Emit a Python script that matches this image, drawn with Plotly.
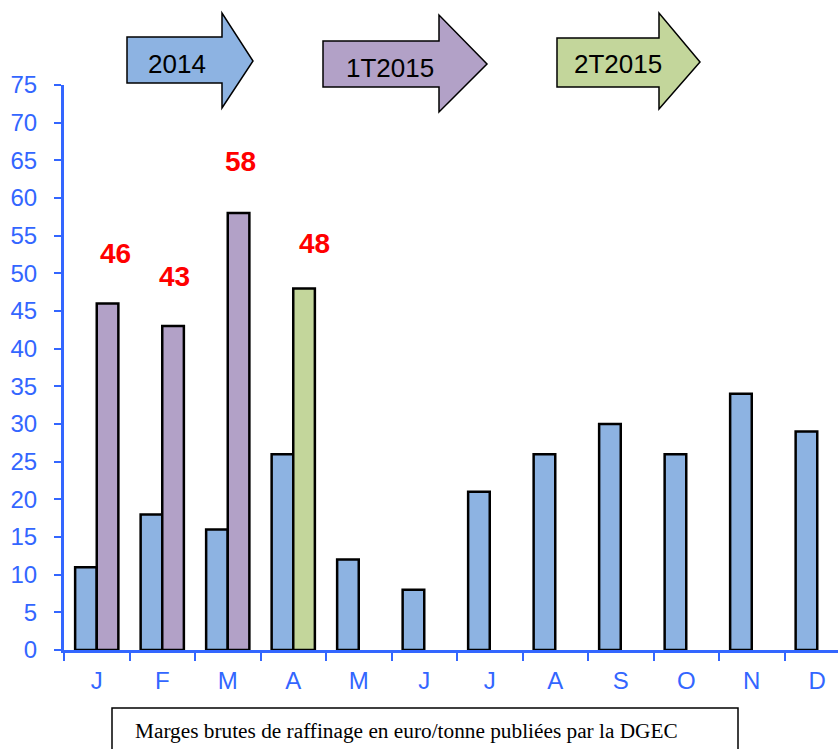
import plotly.graph_objects as go

# ---- data ----
months = ["J", "F", "M", "A", "M", "J", "J", "A", "S", "O", "N", "D"]
values_2014 = [11, 18, 16, 26, 12, 8, 21, 26, 30, 26, 34, 29]
values_2015 = [46, 43, 58, 48]
colors_2015 = ["#B2A1C7", "#B2A1C7", "#B2A1C7", "#C3D69B"]
label_dx = [0.29, 0.18, 0.20, 0.32]
label_dy = [50, 50, 52, 45]
arrow_texts = ["2014", "1T2015", "2T2015"]
arrow_colors = ["#8DB3E2", "#B2A1C7", "#C3D69B"]
caption = "Marges brutes de raffinage en euro/tonne publiées par la DGEC"

BLUE_AX = "#3366FF"
W, H = 838, 749
L, R, T, B = 64, 838, 85, 650  # plot area in pixels


def px(x):
    return (x - L) / (R - L)


def py(y):
    return (B - y) / (B - T)


fig = go.Figure()
x_idx = list(range(len(months)))
fig.add_trace(go.Bar(x=x_idx, y=values_2014, marker=dict(color="#8DB3E2", line=dict(color="black", width=2.5)),
                     showlegend=False, hoverinfo="y"))
fig.add_trace(go.Bar(x=x_idx[:len(values_2015)], y=values_2015,
                     marker=dict(color=colors_2015, line=dict(color="black", width=2.5)),
                     showlegend=False, hoverinfo="y"))

annotations = []
for i, v in enumerate(values_2015):
    annotations.append(dict(x=i + label_dx[i], y=v, xref="x", yref="y", text=f"<b>{v}</b>", showarrow=False,
                            yshift=label_dy[i], font=dict(family="Arial, Liberation Sans", size=28, color="#FF0000"),
                            xanchor="center", yanchor="middle"))

# arrows (decorative period markers)
arrow_geo = [
    # body_x0, body_x1, body_y0, body_y1, head_y0, head_y1, tip_x, tip_y, text_x, text_y
    (127, 222, 37, 83, 13, 108, 253, 61, 177, 64),
    (323, 439, 41, 87, 15, 112, 487, 64, 390, 68),
    (557, 659, 38, 87, 13, 109, 700, 62, 618, 64),
]
shapes = []
for (bx0, bx1, by0, by1, hy0, hy1, tx, ty, lx, ly), txt, col in zip(arrow_geo, arrow_texts, arrow_colors):
    pts = [(bx0, by0), (bx1, by0), (bx1, hy0), (tx, ty), (bx1, hy1), (bx1, by1), (bx0, by1)]
    path = "M " + " L ".join(f"{px(a):.5f},{py(b):.5f}" for a, b in pts) + " Z"
    shapes.append(dict(type="path", path=path, xref="paper", yref="paper", fillcolor=col,
                       line=dict(color="black", width=1.5), layer="above"))
    annotations.append(dict(x=px(lx), y=py(ly), xref="paper", yref="paper", text=txt, showarrow=False,
                            font=dict(family="Arial, Liberation Sans", size=26, color="black"),
                            xanchor="center", yanchor="middle"))

# caption box
shapes.append(dict(type="rect", xref="paper", yref="paper", x0=px(112), x1=px(738), y0=py(770), y1=py(708),
                   line=dict(color="black", width=1.5), fillcolor="white"))
annotations.append(dict(x=px(133), y=py(731), xref="paper", yref="paper", text=caption, showarrow=False,
                        font=dict(family="Liberation Serif, Times New Roman, serif", size=21.3, color="black"),
                        xanchor="left", yanchor="middle"))

fig.update_layout(
    width=W, height=H,
    margin=dict(l=L, r=W - R, t=T, b=H - B, pad=0),
    plot_bgcolor="white", paper_bgcolor="white",
    barmode="group", bargap=0.34, bargroupgap=0,
    shapes=shapes, annotations=annotations,
    xaxis=dict(range=[-0.5, (R - L) / 65.5 - 0.5], tickmode="array", tickvals=x_idx, ticktext=months,
               ticks="", showline=True, linecolor=BLUE_AX, linewidth=3, showgrid=False, zeroline=False,
               tickfont=dict(family="Arial, Liberation Sans", size=24, color=BLUE_AX),
               ticklabelstandoff=7,
               minor=dict(tickmode="linear", tick0=-0.5, dtick=1, ticks="outside", ticklen=8,
                          tickwidth=2, tickcolor=BLUE_AX, showgrid=False)),
    yaxis=dict(range=[0, 75], tickmode="linear", tick0=0, dtick=5, ticks="outside", ticklen=7, tickwidth=2,
               tickcolor=BLUE_AX, showline=True, linecolor=BLUE_AX, linewidth=3, showgrid=False, zeroline=False,
               tickfont=dict(family="Arial, Liberation Sans", size=24, color=BLUE_AX),
               ticklabelstandoff=12),
)

fig.write_html("out.html", config={"displayModeBar": False},
               post_script="document.body.style.margin='0';document.body.style.overflow='hidden';")
